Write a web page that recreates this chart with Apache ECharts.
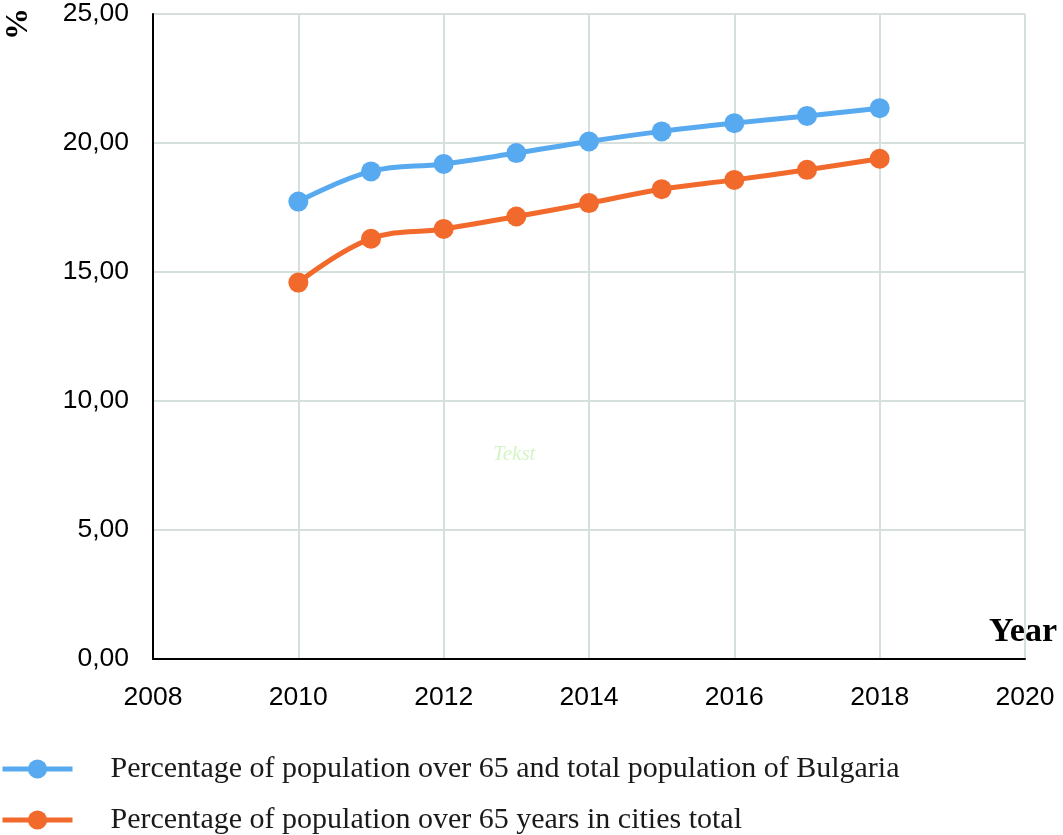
<!DOCTYPE html>
<html><head><meta charset="utf-8">
<script src="https://cdn.jsdelivr.net/npm/echarts@6/dist/echarts.min.js"></script>
<style>html,body{margin:0;padding:0;background:#fff}#c{width:1063px;height:835px}</style>
</head><body><div id="c"></div>
<script>
var years = [2010, 2011, 2012, 2013, 2014, 2015, 2016, 2017, 2018];
var bulgaria = [17.73, 18.90, 19.19, 19.61, 20.06, 20.45, 20.77, 21.05, 21.35];
var cities = [14.59, 16.29, 16.67, 17.15, 17.67, 18.21, 18.57, 18.96, 19.39];
var seriesNames = ['Percentage of population over 65 and total population of Bulgaria',
                   'Percentage of population over 65 years in cities total'];
var xMin = 2008, xMax = 2020, xStep = 2;
var yMin = 0, yMax = 25, yStep = 5;

function pairs(vals){ return years.map(function(y,i){ return [y, vals[i]]; }); }

var chart = echarts.init(document.getElementById('c'));
var gridColor = '#d5dfdb';
var tickFont = { fontFamily: 'Liberation Sans', fontSize: 26.5, color: '#000' };
function legendFor(name, top){
  return {
    orient: 'vertical', left: 0, top: top, padding: 0,
    itemWidth: 70, itemHeight: 24,
    lineStyle: { width: 5 },
    textStyle: { fontFamily: 'Liberation Serif', fontSize: 30, color: '#1a1a1a', padding: [0, 0, 0, 33] },
    data: [name]
  };
}
chart.setOption({
  animation: false,
  grid: { left: 153, right: 38, top: 14, bottom: 176 },
  xAxis: {
    type: 'value', min: xMin, max: xMax, interval: xStep,
    axisLine: { show: true, onZero: false, lineStyle: { color: '#000', width: 2 } },
    axisTick: { show: false },
    splitLine: { show: true, lineStyle: { color: gridColor, width: 2 } },
    axisLabel: Object.assign({ margin: 25, formatter: function(v){ return String(v); } }, tickFont)
  },
  yAxis: {
    type: 'value', min: yMin, max: yMax, interval: yStep,
    axisLine: { show: true, lineStyle: { color: '#000', width: 2 } },
    axisTick: { show: false },
    splitLine: { show: true, lineStyle: { color: gridColor, width: 2 } },
    axisLabel: Object.assign({ margin: 24, formatter: function(v){ return v.toFixed(2).replace('.', ','); } }, tickFont)
  },
  legend: [ legendFor(seriesNames[0], 754), legendFor(seriesNames[1], 805) ],
  series: [
    { name: seriesNames[0], type: 'line', data: pairs(bulgaria), smooth: 0.4,
      symbol: 'circle', symbolSize: 20,
      lineStyle: { color: '#58aaf0', width: 5 }, itemStyle: { color: '#58aaf0' } },
    { name: seriesNames[1], type: 'line', data: pairs(cities), smooth: 0.4,
      symbol: 'circle', symbolSize: 20,
      lineStyle: { color: '#f2692c', width: 5 }, itemStyle: { color: '#f2692c' } }
  ],
  graphic: [
    { type: 'text', rotation: Math.PI / 2, x: 19, y: 24,
      style: { text: '%', fontFamily: 'Liberation Serif', fontWeight: 'bold', fontSize: 32, fill: '#000',
               align: 'center', verticalAlign: 'middle' } },
    { type: 'text', x: 989, y: 615,
      style: { text: 'Year', fontFamily: 'Liberation Serif', fontWeight: 'bold', fontSize: 34, fill: '#000' } },
    { type: 'text', x: 493, y: 444,
      style: { text: 'Tekst', fontFamily: 'Liberation Serif', fontStyle: 'italic', fontSize: 21, fill: '#d4f5c6' } }
  ]
});
</script></body></html>
